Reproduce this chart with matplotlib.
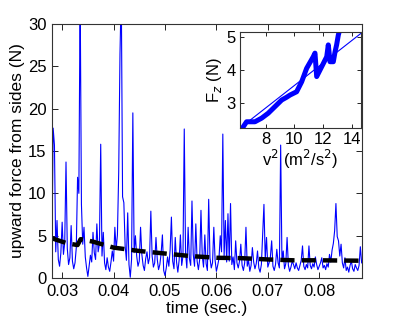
import numpy as np
import matplotlib
matplotlib.use("Agg")
import matplotlib.pyplot as plt

# ---------- Data ----------
T_START, T_STEP = 0.028, 0.00025
FORCE = [
    2.5, 17.7, 15.7, 3.1, 6.8, 2.2, 1.4, 3.0, 6.6, 2.8,
    4.2, 13.7, 3.5, 1.6, 2.4, 6.2, 2.0, 1.1, 1.8, 3.6,
    11.9, 10.0, 34.0, 8.7, 4.0, 6.0, 2.5, 1.2, 0.2, 1.5,
    2.7, 1.9, 5.4, 3.0, 2.2, 6.4, 3.1, 4.0, 15.8, 2.6,
    5.4, 1.8, 1.0, 2.4, 1.3, 0.8, 1.9, 3.2, 2.0, 6.0,
    3.4, 5.1, 12.5, 26.5, 34.0, 9.6, 8.9, 3.8, 2.1, 7.7,
    1.6, 0.1, 2.2, 19.5, 3.0, 5.0, 2.6, 1.4, 2.0, 6.0,
    2.8, 1.5, 0.9, 2.3, 3.1, 1.7, 2.4, 7.9, 2.6, 1.3,
    1.8, 4.8, 2.2, 1.0, 1.6, 2.9, 5.1, 0.9, 0.3, 1.2,
    2.5, 1.4, 3.3, 7.2, 2.0, 1.1, 4.8, 1.9, 0.7, 2.1,
    5.1, 1.5, 2.6, 17.6, 3.0, 1.2, 6.0, 2.3, 1.5, 9.1,
    2.8, 1.4, 6.4, 2.0, 1.0, 2.2, 8.0, 2.6, 1.3, 5.1,
    1.7, 0.9, 9.3, 2.4, 1.2, 1.8, 6.0, 2.1, 0.8, 1.5,
    2.3, 5.0, 3.1, 17.0, 2.6, 6.8, 1.9, 7.6, 2.0, 8.8,
    1.6, 2.5, 1.0, 4.4, 1.8, 1.2, 2.0, 4.0, 1.5, 0.9,
    1.8, 6.0, 1.4, 2.1, 0.8, 1.5, 3.6, 1.9, 1.1, 1.7,
    3.2, 1.2, 0.7, 1.6, 5.2, 8.7, 2.2, 4.8, 1.3, 1.8,
    2.5, 4.4, 1.4, 0.9, 1.6, 3.4, 1.8, 1.2, 15.7, 2.0,
    3.2, 1.1, 1.7, 4.8, 1.5, 0.8, 1.3, 2.0, 1.6, 1.1,
    1.8, 1.2, 0.9, 1.5, 2.1, 3.8, 1.4, 1.0, 1.6, 1.2,
    3.8, 1.5, 1.1, 1.7, 1.3, 2.5, 1.6, 1.0, 1.4, 1.8,
    2.4, 1.2, 1.5, 1.0, 1.7, 1.3, 2.8, 1.9, 3.3, 4.1,
    5.6, 8.8, 4.9, 4.4, 2.6, 4.0, 1.8, 1.2, 2.4, 0.9,
    1.3, 0.7, 1.5, 2.0, 1.1, 0.8, 1.6, 1.2, 0.9, 1.5,
    3.7, 1.8,
]
MEAN_T = [0.028, 0.031, 0.0330, 0.0336, 0.036, 0.040, 0.045, 0.050,
          0.055, 0.060, 0.065, 0.070, 0.075, 0.080, 0.0885]
MEAN_F = [4.7, 4.1, 3.9, 4.6, 4.3, 3.6, 3.2, 2.9,
          2.6, 2.4, 2.35, 2.2, 2.1, 2.1, 2.05]

V2 = [6.44, 6.67, 7.25, 7.72, 8.18, 8.65, 9.12, 9.45, 9.70, 10.16,
      10.51, 10.86, 11.32, 11.44, 11.56, 11.91, 12.26, 12.37, 12.49,
      12.72, 12.84, 12.95, 13.07, 13.18]
FZ = [2.29, 2.44, 2.44, 2.55, 2.70, 2.90, 3.10, 3.18, 3.25, 3.35,
      3.65, 4.06, 4.41, 4.52, 3.81, 4.11, 4.41, 4.77, 4.26,
      4.26, 4.56, 4.77, 5.07, 5.25]
FIT_V2 = [6.33, 14.65]
FIT_FZ = [2.29, 5.12]

XTICKS = [0.03, 0.04, 0.05, 0.06, 0.07, 0.08]
YTICKS = [0, 5, 10, 15, 20, 25, 30]

# ---------- Style ----------
plt.rcParams.update({
    "font.family": "sans-serif",
    "font.sans-serif": ["Liberation Sans", "DejaVu Sans"],
    "font.size": 12,
    "xtick.direction": "in",
    "ytick.direction": "in",
    "xtick.top": True,
    "ytick.right": True,
    "axes.edgecolor": "#333333",
    "axes.linewidth": 0.8,
})
BLUE = "#0000ff"

t = T_START + T_STEP * np.arange(len(FORCE))

fig = plt.figure(figsize=(3.99, 3.23), dpi=100)
ax = fig.add_axes([0.130, 0.139, 0.777, 0.787])
ax.plot(t, FORCE, color=BLUE, lw=0.8)
ax.plot(MEAN_T, MEAN_F, color="black", lw=3.2, dashes=(3.2, 1.6))
ax.set_xlim(0.028, 0.0883)
ax.set_ylim(0, 30)
ax.set_xticks(XTICKS)
ax.set_xticklabels([f"{v:.2f}" for v in XTICKS])
ax.set_yticks(YTICKS)
ax.tick_params(length=4, width=0.6, labelsize=12, pad=4)
ax.set_xlabel("time (sec.)", fontsize=12.5, labelpad=2)
ax.set_ylabel("upward force from sides (N)", fontsize=12.5, labelpad=2)

# inset
ins = fig.add_axes([0.6015, 0.6046, 0.3025, 0.2973])
ins.plot(V2, FZ, color=BLUE, lw=3.6, solid_joinstyle="round")
ins.plot(FIT_V2, FIT_FZ, color=BLUE, lw=0.8)
ins.set_xlim(6.21, 14.63)
ins.set_ylim(2.26, 5.17)
ins.set_xticks([8, 10, 12, 14])
ins.set_yticks([3, 4, 5])
ins.tick_params(length=3, width=0.6, labelsize=12, pad=3)
ins.set_xlabel("v$^2$ (m$^2$/s$^2$)", fontsize=12, labelpad=1)
ins.set_ylabel("F$_z$ (N)", fontsize=12, labelpad=2)

fig.savefig("out.png", dpi=100)
